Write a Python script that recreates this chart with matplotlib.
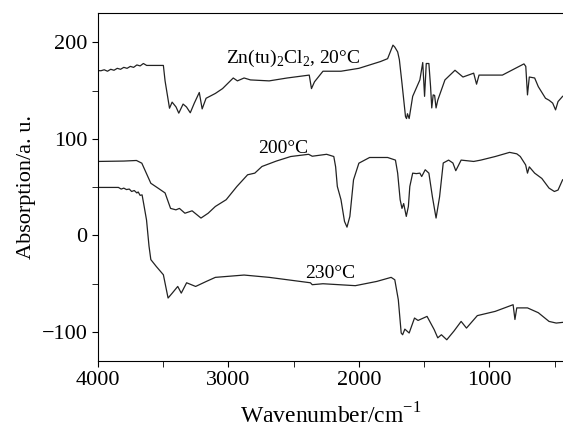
import numpy as np
import matplotlib.pyplot as plt
from matplotlib.ticker import MultipleLocator

plt.rcParams['font.family'] = ['Liberation Serif', 'DejaVu Serif']
plt.rcParams['mathtext.fontset'] = 'custom'
plt.rcParams['mathtext.rm'] = 'Liberation Serif'

# Zn(tu)2Cl2, 20 C
wn1 = [4000, 3975, 3950, 3925, 3900, 3875, 3850, 3825, 3800, 3775, 3750, 3725, 3700, 3675, 3650, 3625,
       3600, 3540, 3497,
       3484, 3450, 3430, 3400, 3379, 3346, 3320, 3291, 3260, 3222, 3200, 3170, 3099, 3044, 2962,
       2930, 2879, 2830, 2687, 2549, 2380, 2363, 2340, 2275, 2137, 2000, 1835, 1780, 1739,
       1725, 1703, 1690, 1670, 1643, 1635, 1628, 1615, 1588, 1533, 1511, 1497, 1484, 1464,
       1451, 1442, 1431, 1420, 1409, 1396, 1341, 1264, 1203, 1121, 1099, 1080, 1040, 901,
       736, 722, 709, 695, 654, 626, 571, 544, 516, 494, 475, 440]
ab1 = [170.7, 170.5, 171.5, 170, 172, 171, 173, 172, 174, 173, 175, 174, 176.5, 175.5, 178, 176,
       176, 176, 176,
       160, 131.7, 138, 133, 126.6, 136, 133, 127, 137, 148, 131, 142, 147, 152, 163,
       160, 163, 161, 160, 163, 166, 152, 159, 170, 170, 173, 180, 183, 197,
       195, 190, 182, 157.6, 123, 121, 126, 121, 144, 161, 179, 144, 178, 178,
       154, 132, 145.5, 145, 132, 140, 161, 171, 164, 168, 156.6, 166, 166, 166,
       177.6, 175, 145.5, 164, 163, 154, 142, 140, 137, 130, 138.6, 144]

# 200 C
wn2 = [4000, 3800, 3703, 3662, 3593, 3538, 3484, 3442, 3401, 3374, 3332, 3277, 3209, 3154,
       3099, 3016, 2934, 2852, 2797, 2742, 2632, 2522, 2385, 2357, 2247, 2192, 2178, 2165,
       2137, 2110, 2091, 2069, 2041, 2000, 1918, 1780, 1720, 1703, 1684, 1670, 1657, 1637,
       1621, 1610, 1588, 1560, 1533, 1519, 1492, 1464, 1437, 1409, 1382, 1354, 1313, 1280,
       1258, 1217, 1121, 1066, 956, 846, 791, 764, 723, 709, 695, 654, 599, 544, 503, 475, 440]
ab2 = [76.6, 77, 77.6, 74.8, 54, 49, 44, 28, 26.5, 28, 23, 25.5, 18, 23,
       30, 37, 50.7, 62.8, 64.5, 71.4, 77, 81.7, 84, 82, 84, 81.7, 71, 50.7,
       37, 14.5, 8.6, 19.7, 57.6, 74.8, 80.7, 80.7, 78, 64.5, 37, 28, 33, 19.7,
       30, 50.7, 64.5, 64, 64.5, 61, 68, 64.5, 40, 18, 40, 75, 78, 75,
       67, 78, 76.6, 78, 81.7, 86, 84.5, 81.7, 73, 64.5, 71, 64.5, 59, 49, 45.5, 47, 57.6]

# 230 C
wn3 = [4000, 3841, 3820, 3800, 3780, 3758, 3740, 3720, 3700, 3690, 3675, 3660, 3648, 3626, 3607, 3593, 3552,
       3497, 3461, 3429, 3387, 3360, 3319, 3250, 3168, 3099, 2879, 2687, 2371, 2357, 2275,
       2027, 1863, 1753, 1725, 1698, 1676, 1665, 1648, 1615, 1574, 1547, 1478, 1423, 1396,
       1368, 1327, 1272, 1217, 1176, 1093, 956, 819, 805, 791, 709, 626, 544, 489, 440]
ab3 = [49.7, 49.7, 48, 49, 47.5, 48, 45.5, 46.5, 44, 45, 41.5, 42, 33, 16, -11, -25, -32,
       -40.7, -64.8, -59.7, -52.8, -59.7, -49, -52.8, -47.6, -43.4, -41, -43.4, -49, -51, -50,
       -52, -47.6, -43.4, -45.9, -66.6, -101, -102.8, -97, -101, -85.5, -88, -83.8, -97.6, -106,
       -102.8, -108, -99, -89, -95.9, -83, -78.6, -71.7, -87, -75, -75, -80, -89, -90.7, -90]

fig = plt.figure(figsize=(5.63, 4.28), dpi=100)
ax = fig.add_axes([0.1735, 0.1565, 0.8265, 0.8125])
ax.plot(wn1, ab1, color='#222222', lw=0.9)
ax.plot(wn2, ab2, color='#222222', lw=0.9)
ax.plot(wn3, ab3, color='#222222', lw=0.9)

ax.text(2500, 183.4, r'Zn(tu)$_2$Cl$_2$, 20°C', ha='center', va='center', fontsize=14)
ax.text(2577, 90.3, '200°C', ha='center', va='center', fontsize=14)
ax.text(2220, -39, '230°C', ha='center', va='center', fontsize=14)

ax.set_xlim(4000, 437)
ax.set_ylim(-130, 230)
ax.xaxis.set_major_locator(MultipleLocator(1000))
ax.xaxis.set_minor_locator(MultipleLocator(500))
ax.yaxis.set_major_locator(MultipleLocator(100))
ax.yaxis.set_minor_locator(MultipleLocator(50))
ax.tick_params(which='both', direction='out', length=4, labelsize=16, top=False, right=False)
ax.set_xlabel('Wavenumber/cm$^{-1}$', fontsize=17, labelpad=9)
ax.set_ylabel('Absorption/a. u.', fontsize=16)
ax.spines['right'].set_visible(False)
fig.savefig('out.png', dpi=100)
